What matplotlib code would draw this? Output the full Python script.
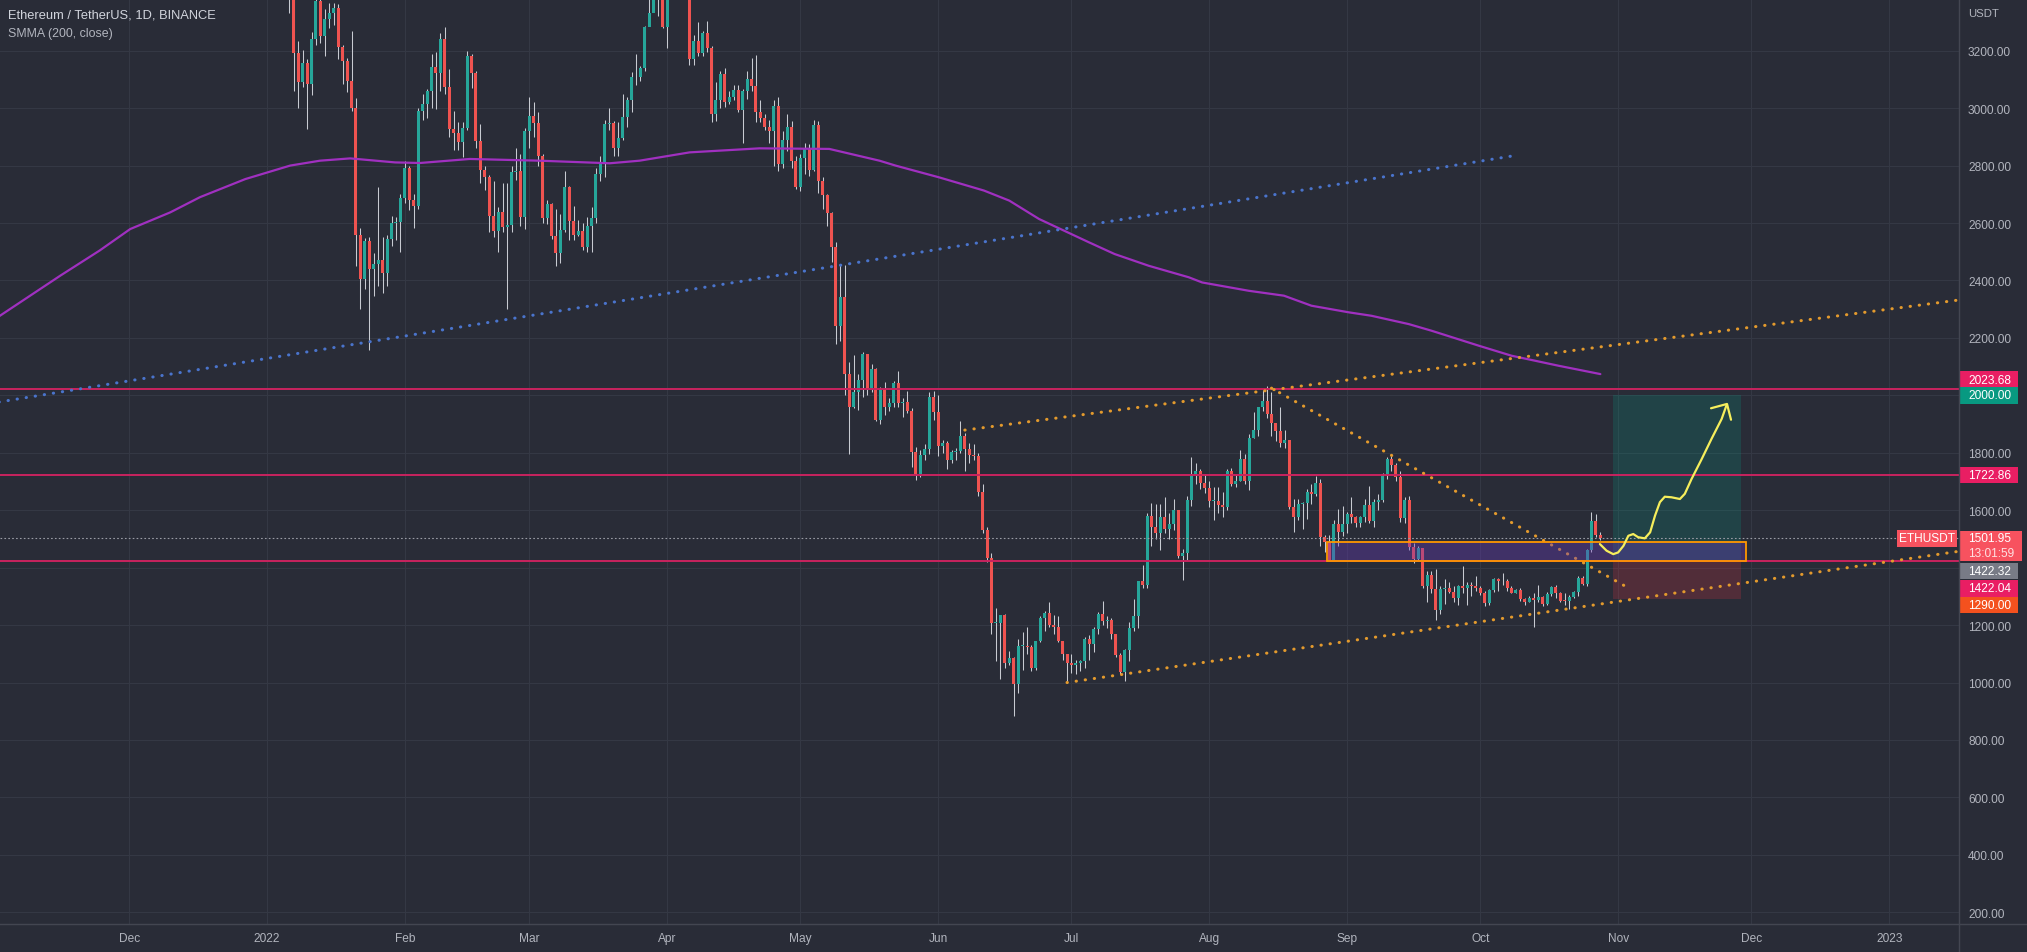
import numpy as np
import matplotlib
matplotlib.use("Agg")
import matplotlib.pyplot as plt
from matplotlib.patches import Rectangle

plt.rcParams['font.family'] = ['Liberation Sans', 'DejaVu Sans']

# colours (TradingView-like dark theme)
BG = '#292c37'
GRID = '#343844'
AXIS_TEXT = '#b2b5be'
SEP = '#434651'
UP = '#26a69a'
DOWN = '#ef5350'
WICK = '#c8cbd2'
LEVEL = '#c9235f'
PINK = '#e91e63'
TEAL = '#089981'
RED = '#f7525f'
GRAY = '#787b86'
STOP = '#f4511e'
ORANGE = '#e39a2d'
BLUE = '#4a74cc'
SMMA_COLOR = '#a030c0'
YELLOW = '#f6ee5c'

# ---- ETHUSDT daily candles, 2022-01-01 .. 2022-10-28 ----
start_day = np.datetime64('2022-01-01')
first_open = 3676.0  # open of Jan 1; each later open is the previous close
close_px = [
    # Jan
    3765, 3829, 3761, 3794, 3550, 3418, 3193, 3092, 3157, 3083, 3239, 3372, 3251, 3310, 3330, 3350,
    3212, 3164, 3096, 3000, 2560, 2405, 2536, 2440, 2459, 2470, 2425, 2546, 2600, 2603, 2688,
    # Feb
    2792, 2680, 2660, 2990, 3015, 3058, 3143, 3122, 3241, 3074, 2927, 2915, 2882, 2930, 3183, 3124,
    2885, 2784, 2761, 2626, 2572, 2640, 2585, 2593, 2778, 2780, 2620, 2920,
    # Mar
    2971, 2949, 2834, 2617, 2665, 2554, 2496, 2574, 2727, 2607, 2558, 2571, 2516, 2591, 2619, 2772,
    2813, 2945, 2949, 2860, 2895, 2968, 3030, 3108, 3107, 3140, 3282, 3330, 3400, 3384, 3282,
    # Apr
    3454, 3443, 3521, 3522, 3408, 3171, 3233, 3191, 3261, 3209, 2980, 3029, 3118, 3020, 3040, 3062,
    2992, 3058, 3103, 3077, 2986, 2965, 2935, 2922, 3008, 2807, 2889, 2936, 2815, 2726,
    # May
    2826, 2857, 2784, 2940, 2748, 2697, 2636, 2517, 2243, 2342, 2075, 1960, 2011, 2055, 2145, 2023,
    2090, 1914, 2018, 1961, 1975, 2043, 1972, 1978, 1945, 1803, 1725, 1792, 1812, 1995, 1942,
    # Jun
    1823, 1834, 1775, 1804, 1806, 1859, 1814, 1792, 1789, 1662, 1531, 1434, 1207, 1208, 1236, 1067,
    1086, 994, 1127, 1127, 1124, 1051, 1143, 1225, 1243, 1199, 1193, 1143, 1098, 1067,
    # Jul
    1060, 1067, 1074, 1150, 1134, 1186, 1237, 1215, 1217, 1168, 1097, 1038, 1112, 1191, 1232, 1354,
    1338, 1580, 1543, 1521, 1578, 1536, 1553, 1600, 1440, 1451, 1637, 1726, 1737, 1696, 1679,
    # Aug
    1632, 1633, 1617, 1610, 1736, 1692, 1700, 1777, 1700, 1852, 1881, 1958, 1981, 1935, 1903, 1876,
    1834, 1846, 1612, 1577, 1620, 1624, 1662, 1656, 1696, 1507, 1490, 1425, 1553, 1525, 1553,
    # Sep
    1586, 1577, 1556, 1576, 1617, 1563, 1630, 1635, 1718, 1777, 1759, 1715, 1573, 1637, 1472, 1431,
    1469, 1336, 1376, 1324, 1251, 1327, 1328, 1316, 1294, 1335, 1330, 1338, 1335, 1328,
    # Oct
    1311, 1276, 1323, 1362, 1352, 1352, 1330, 1313, 1322, 1291, 1279, 1294, 1288, 1297, 1274, 1307,
    1331, 1311, 1285, 1283, 1299, 1315, 1363, 1344, 1460, 1564, 1512, 1501.95,
]
high_px = [
    3770, 3857, 3852, 3876, 3842, 3566, 3420, 3235, 3204, 3171, 3266, 3414, 3412, 3345, 3365, 3365,
    3361, 3220, 3175, 3270, 3036, 2583, 2548, 2550, 2495, 2725, 2550, 2560, 2623, 2620, 2700,
    2815, 2800, 2700, 3000, 3050, 3065, 3190, 3195, 3260, 3282, 3135, 2990, 2950, 2950, 3200, 3190,
    3130, 2945, 2800, 2767, 2745, 2657, 2740, 2740, 2800, 2860, 2840, 2930,
    3040, 3020, 2985, 2840, 2680, 2670, 2650, 2630, 2780, 2730, 2660, 2610, 2600, 2620, 2655, 2790,
    2835, 2960, 3000, 2955, 2950, 3050, 3040, 3125, 3190, 3145, 3285, 3480, 3445, 3440, 3445,
    3475, 3530, 3580, 3545, 3555, 3410, 3255, 3300, 3270, 3305, 3215, 3090, 3130, 3140, 3060, 3080,
    3080, 3067, 3130, 3175, 3185, 3030, 2980, 2960, 3030, 3040, 2920, 2980, 2955, 2835,
    2840, 2880, 2875, 2960, 2955, 2760, 2700, 2640, 2535, 2455, 2455, 2115, 2140, 2075, 2150, 2145,
    2110, 2095, 2030, 2045, 1990, 2050, 2085, 1990, 2015, 1955, 1820, 1810, 1830, 2010, 2015,
    2000, 1845, 1840, 1810, 1815, 1910, 1870, 1835, 1830, 1800, 1690, 1540, 1450, 1260, 1230, 1240,
    1110, 1090, 1150, 1175, 1195, 1130, 1145, 1230, 1250, 1280, 1235, 1230, 1145, 1100,
    1100, 1080, 1080, 1160, 1165, 1195, 1245, 1285, 1230, 1225, 1170, 1102, 1115, 1210, 1290, 1355,
    1410, 1590, 1625, 1620, 1622, 1645, 1590, 1640, 1600, 1466, 1650, 1785, 1765, 1745, 1725,
    1700, 1680, 1680, 1665, 1745, 1747, 1725, 1810, 1795, 1865, 1942, 1960, 2020, 2032, 2012, 1905,
    1960, 1880, 1845, 1640, 1640, 1630, 1675, 1690, 1720, 1710, 1515, 1515, 1565, 1605, 1615,
    1595, 1645, 1580, 1580, 1640, 1685, 1640, 1655, 1730, 1785, 1790, 1765, 1735, 1645, 1650, 1485,
    1475, 1470, 1390, 1390, 1395, 1335, 1360, 1350, 1335, 1340, 1405, 1350, 1350, 1370,
    1335, 1320, 1325, 1365, 1365, 1380, 1360, 1335, 1325, 1330, 1295, 1302, 1310, 1340, 1300, 1315,
    1335, 1340, 1315, 1310, 1305, 1320, 1370, 1370, 1465, 1593, 1588, 1525,
]
low_px = [
    3673, 3718, 3680, 3733, 3390, 3332, 3060, 3000, 3072, 2928, 3045, 3220, 3228, 3180, 3280, 3290,
    3170, 3085, 3055, 2990, 2450, 2300, 2370, 2159, 2345, 2380, 2355, 2380, 2520, 2540, 2500,
    2670, 2645, 2582, 2650, 2960, 2965, 3000, 2996, 3060, 3050, 2900, 2855, 2853, 2830, 2925, 3070,
    2860, 2740, 2715, 2570, 2550, 2500, 2570, 2300, 2570, 2750, 2590, 2580,
    2860, 2900, 2800, 2600, 2595, 2545, 2450, 2460, 2570, 2540, 2540, 2555, 2505, 2500, 2500, 2600,
    2745, 2760, 2925, 2835, 2835, 2890, 2935, 2985, 3080, 3095, 3130, 3285, 3335, 3320, 3280,
    3210, 3435, 3410, 3400, 3400, 3150, 3150, 3180, 3180, 3195, 2950, 2955, 3000, 3005, 3015, 3030,
    2985, 2880, 3032, 3060, 2950, 2950, 2925, 2880, 2800, 2780, 2790, 2850, 2790, 2720,
    2710, 2770, 2765, 2780, 2705, 2650, 2590, 2465, 2180, 2190, 2000, 1795, 1955, 1950, 1995, 2000,
    2010, 1910, 1900, 1930, 1945, 1960, 1960, 1925, 1940, 1750, 1705, 1715, 1775, 1795, 1915,
    1790, 1800, 1743, 1765, 1774, 1800, 1735, 1765, 1775, 1650, 1520, 1420, 1170, 1075, 1012, 1050,
    1060, 882, 965, 1045, 1100, 1040, 1045, 1140, 1180, 1195, 1170, 1140, 1080, 1000,
    1033, 1030, 1040, 1050, 1080, 1105, 1170, 1200, 1190, 1150, 1090, 1030, 1006, 1075, 1180, 1190,
    1330, 1330, 1475, 1500, 1460, 1520, 1500, 1530, 1435, 1356, 1425, 1615, 1690, 1675, 1660,
    1610, 1565, 1590, 1575, 1600, 1685, 1680, 1700, 1690, 1670, 1850, 1860, 1945, 1920, 1860, 1840,
    1820, 1818, 1605, 1525, 1565, 1535, 1570, 1620, 1650, 1475, 1455, 1422, 1422, 1475, 1510,
    1520, 1555, 1540, 1540, 1560, 1555, 1540, 1600, 1630, 1710, 1735, 1700, 1560, 1555, 1460, 1415,
    1425, 1330, 1280, 1310, 1216, 1240, 1275, 1310, 1280, 1270, 1312, 1270, 1300, 1320,
    1305, 1265, 1270, 1315, 1320, 1340, 1320, 1310, 1310, 1285, 1270, 1280, 1192, 1280, 1265, 1270,
    1300, 1295, 1280, 1270, 1255, 1295, 1300, 1340, 1335, 1455, 1505, 1497,
]

# SMMA(200, close): day offset from 2022-01-01, value
smma_day = [-61, -46.5, -37.7, -30.8, -21.8, -15.1, -4.9, 5.2, 11.9, 18.7, 28.8, 34.4, 45.6, 61.3,
            77.1, 83.8, 95.1, 110.8, 126.5, 137.8, 141.4, 151.2, 161.3, 167, 173.7, 184.9, 190.7,
            198.4, 207.4, 210.4, 220.9, 228.8, 235, 243.4, 248.5, 256.9, 262, 272.6, 280, 290.6, 300]
smma_val = [2268, 2417, 2504, 2579, 2637, 2690, 2753, 2800, 2817, 2825, 2811, 2809, 2823, 2817,
            2808, 2817, 2846, 2860, 2858, 2817, 2800, 2759, 2713, 2678, 2614, 2533, 2492,
            2451, 2411, 2393, 2364, 2347, 2312, 2289, 2277, 2248, 2225, 2173, 2138, 2103, 2074]

# drawings (day offset, price)
level_prices = [2023.68, 1722.86, 1422.04]
last_price = 1501.95
blue_line_day, blue_line_price = [-61, 281.6], [1975, 2837]
channel_top_day, channel_top_price = [157, 380.7], [1879, 2332]
channel_bot_day, channel_bot_price = [180, 380.7], [1000, 1457]
falling_day, falling_price = [226, 306.7], [2025, 1326]
box_day, box_price = [238.5, 332.7], [1422.0, 1490.0]
long_day = [302.8, 331.6]
long_entry, long_target, long_stop = 1422.32, 2000.00, 1290.00
arrow_day = [299.9, 301.4, 302.9, 304.0, 305.2, 306.3, 307.4, 308.5, 310.0, 311.2, 312.3, 313.4,
             314.5, 316.0, 317.9, 319.0, 320.5, 322.8, 325.0, 327.3, 328.4]
arrow_price = [1482, 1459, 1447, 1453, 1476, 1511, 1517, 1506, 1502, 1523, 1581, 1628,
               1647, 1645, 1639, 1657, 1708, 1778, 1848, 1918, 1966]
arrow_head_day = [324.9, 328.5, 329.4]
arrow_head_price = [1955, 1970, 1915]

month_ticks = np.array(['2021-12-01', '2022-01-01', '2022-02-01', '2022-03-01', '2022-04-01',
                        '2022-05-01', '2022-06-01', '2022-07-01', '2022-08-01', '2022-09-01',
                        '2022-10-01', '2022-11-01', '2022-12-01', '2023-01-01'], dtype='datetime64[D]')
month_labels = ['Dec', '2022', 'Feb', 'Mar', 'Apr', 'May', 'Jun', 'Jul', 'Aug', 'Sep', 'Oct',
                'Nov', 'Dec', '2023']
price_ticks = list(range(200, 3201, 200))

# right-axis price tags: price, text, colour, vertical shift in pixels
price_tags = [
    (2023.68, '2023.68', PINK, 9),
    (2000.00, '2000.00', TEAL, 0),
    (1722.86, '1722.86', PINK, 0),
    (1422.32, '1422.32', GRAY, -10),
    (1422.04, '1422.04', PINK, -27),
    (1290.00, '1290.00', STOP, -6),
]

# ---- figure ----
W, H = 2027, 953
PLOT_W, PLOT_H, BOTTOM = 1959, 925, 28
fig = plt.figure(figsize=(W / 100, H / 100), dpi=100, facecolor=BG)
ax = fig.add_axes([0, BOTTOM / H, PLOT_W / W, PLOT_H / H], facecolor=BG)
ax.set_xlim(-60.1, 380.7)
ax.set_ylim(159.2, 3380.0)
ppx = (3380.0 - 159.2) / PLOT_H  # price per pixel

for s in ax.spines.values():
    s.set_visible(False)

tick_days = (month_ticks - start_day).astype(int)
ax.set_xticks(tick_days)
ax.set_xticklabels(month_labels)
ax.set_yticks(price_ticks)
ax.set_yticklabels([f'{p:.2f}' for p in price_ticks])
ax.yaxis.tick_right()
ax.tick_params(axis='x', length=0, pad=5.5, labelsize=8.6, labelcolor=AXIS_TEXT)
ax.tick_params(axis='y', length=0, pad=6.5, labelsize=8.6, labelcolor=AXIS_TEXT)
ax.grid(True, color=GRID, lw=0.8)
ax.set_axisbelow(True)

# long position zones
ax.add_patch(Rectangle((long_day[0], long_entry), long_day[1] - long_day[0], long_target - long_entry,
                       facecolor=TEAL, alpha=0.22, lw=0, zorder=1))
ax.add_patch(Rectangle((long_day[0], long_stop), long_day[1] - long_day[0], long_entry - long_stop,
                       facecolor='#f23645', alpha=0.2, lw=0, zorder=1))

# candles
c = np.array(close_px, dtype=float)
h = np.array(high_px, dtype=float)
l = np.array(low_px, dtype=float)
o = np.concatenate([[first_open], c[:-1]])
days = np.arange(len(c))
up = c >= o
ax.vlines(days, l, h, color=WICK, lw=0.75, zorder=3)
body_bot = np.minimum(o, c)
body_h = np.maximum(np.abs(c - o), 3)
ax.bar(days[up], body_h[up], bottom=body_bot[up], width=0.68, color=UP, lw=0, zorder=4)
ax.bar(days[~up], body_h[~up], bottom=body_bot[~up], width=0.68, color=DOWN, lw=0, zorder=4)

# SMMA
ax.plot(smma_day, smma_val, color=SMMA_COLOR, lw=1.6, zorder=5, solid_capstyle='round',
        solid_joinstyle='round')

# horizontal levels and last price line
for p in level_prices:
    ax.axhline(p, color=LEVEL, lw=1.4, zorder=6)
ax.axhline(last_price, color='#9a9ca5', lw=0.8, ls=(0, (1.5, 2)), zorder=6)

# dotted trend lines
dots = dict(lw=2.2, ls=(0, (0.1, 2.9)), dash_capstyle='round', zorder=7)
ax.plot(blue_line_day, blue_line_price, color=BLUE, **dots)
ax.plot(channel_top_day, channel_top_price, color=ORANGE, **dots)
ax.plot(channel_bot_day, channel_bot_price, color=ORANGE, **dots)
ax.plot(falling_day, falling_price, color=ORANGE, **dots)

# range box
ax.add_patch(Rectangle((box_day[0], box_price[0]), box_day[1] - box_day[0], box_price[1] - box_price[0],
                       facecolor='#673ab7', alpha=0.38, lw=0, zorder=8))
ax.add_patch(Rectangle((box_day[0], box_price[0]), box_day[1] - box_day[0], box_price[1] - box_price[0],
                       fill=False, edgecolor='#ff9800', lw=1.3, zorder=8))

# hand drawn arrow
ax.plot(arrow_day, arrow_price, color=YELLOW, lw=1.6, zorder=9, solid_capstyle='round',
        solid_joinstyle='round')
ax.plot(arrow_head_day, arrow_head_price, color=YELLOW, lw=1.6, zorder=9, solid_capstyle='round',
        solid_joinstyle='round')

# ---- price tags on the right axis ----
ytr = ax.get_yaxis_transform()
tag_w = 59 / PLOT_W
tag_h = 16.5 * ppx
text_x = 1 + 9 / PLOT_W
for price, txt, col, shift in price_tags:
    yc = price + shift * ppx
    ax.add_patch(Rectangle((1.0, yc - tag_h / 2), tag_w, tag_h, transform=ytr, facecolor=col,
                           lw=0, clip_on=False, zorder=10))
    ax.text(text_x, yc, txt, transform=ytr, ha='left', va='center', color='white',
            fontsize=8.6, clip_on=False, zorder=11)

# last price tag (two lines) and symbol tag
ax.add_patch(Rectangle((1.0, last_price - 22.5 * ppx), 63 / PLOT_W, 30 * ppx, transform=ytr,
                       facecolor=RED, lw=0, clip_on=False, zorder=10))
ax.text(text_x, last_price, f'{last_price:.2f}', transform=ytr, ha='left', va='center',
        color='white', fontsize=8.6, clip_on=False, zorder=11)
ax.text(text_x, last_price - 15 * ppx, '13:01:59', transform=ytr, ha='left', va='center',
        color='#ffdfe1', fontsize=8.6, clip_on=False, zorder=11)
ax.add_patch(Rectangle((1 - 62 / PLOT_W, last_price - 8.5 * ppx), 60 / PLOT_W, 17 * ppx, transform=ytr,
                       facecolor=RED, lw=0, clip_on=False, zorder=10))
ax.text(1 - 32 / PLOT_W, last_price, 'ETHUSDT', transform=ytr, ha='center', va='center',
        color='white', fontsize=8.6, clip_on=False, zorder=11)

# separators between chart and axes
fig.add_artist(plt.Line2D([PLOT_W / W, PLOT_W / W], [0, 1], transform=fig.transFigure, color=SEP, lw=1))
fig.add_artist(plt.Line2D([0, 1], [BOTTOM / H, BOTTOM / H], transform=fig.transFigure, color=SEP, lw=1))

# header texts
fig.text(8 / W, 1 - 16 / H, 'Ethereum / TetherUS, 1D, BINANCE', ha='left', va='center',
         fontsize=9.3, color='#d1d4dc')
fig.text(8 / W, 1 - 33.5 / H, 'SMMA (200, close)', ha='left', va='center', fontsize=8.9,
         color='#b2b5be')
fig.text(1968 / W, 1 - 14 / H, 'USDT', ha='left', va='center', fontsize=8.2, color=AXIS_TEXT)

fig.savefig('out.png', dpi=100, facecolor=BG)
